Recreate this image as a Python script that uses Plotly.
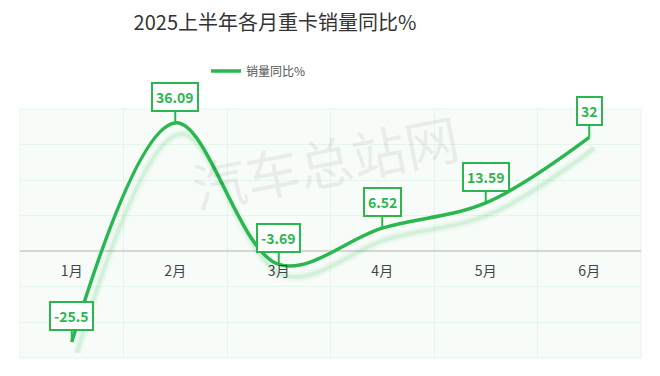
import plotly.graph_objects as go

months = ["1月", "2月", "3月", "4月", "5月", "6月"]
yoy = [-25.5, 36.09, -3.69, 6.52, 13.59, 32]
labels = ["-25.5", "36.09", "-3.69", "6.52", "13.59", "32"]
series_name = "销量同比%"
title_text = "2025上半年各月重卡销量同比%"
watermark = "汽车总站网"

GREEN = "#2bb74f"
GRID = "#e4f5ea"
BG = "#f7fcf9"
FONT = "Noto Sans CJK SC, Microsoft YaHei, sans-serif"

# page has an 8px body margin: figure is drawn at (8, 8)
OFF = 8
W, H = 660 - OFF, 376 - OFF
ML, MR, MT, MB = 20 - OFF, 19, 109 - OFF, 18
pw, ph = W - ML - MR, H - MT - MB
ymin, ymax = -30, 40
px_per_unit = ph / (ymax - ymin)
px_per_cat = pw / len(months)
sdx, sdy = 5, 11  # shadow offset in pixels

fig = go.Figure()

# shadow (on base axes with offset ranges)
fig.add_trace(go.Scatter(
    x=months, y=yoy, mode="lines", xaxis="x", yaxis="y",
    line=dict(color="rgba(43,183,79,0.06)", width=9, shape="spline", smoothing=1),
    showlegend=False, hoverinfo="skip"))
fig.add_trace(go.Scatter(
    x=months, y=yoy, mode="lines", xaxis="x", yaxis="y",
    line=dict(color="rgba(43,183,79,0.13)", width=4, shape="spline", smoothing=1),
    showlegend=False, hoverinfo="skip"))

# main line
fig.add_trace(go.Scatter(
    x=months, y=yoy, mode="lines", name=series_name, xaxis="x2", yaxis="y2",
    line=dict(color=GREEN, width=3.5, shape="spline", smoothing=1)))

for m, v, t in zip(months, yoy, labels):
    fig.add_annotation(
        x=m, y=v, xref="x2", yref="y2", text="<b>%s</b>" % t,
        showarrow=True, arrowhead=0, arrowwidth=2, arrowcolor=GREEN,
        ax=0, ay=-26, standoff=0,
        font=dict(family=FONT, size=14, color=GREEN),
        bgcolor="white", bordercolor=GREEN, borderwidth=2, borderpad=3)

fig.add_annotation(
    x=(325 - 20) / 621, y=(358 - 160) / 249, xref="paper", yref="paper",
    xanchor="center", yanchor="middle", text=watermark,
    showarrow=False, textangle=-11,
    font=dict(family=FONT, size=54, color="rgba(0,0,0,0.06)"))

fig.add_shape(type="rect", xref="paper", yref="paper", x0=0, x1=1, y0=0, y1=1,
              fillcolor=BG, line=dict(color=GRID, width=1), layer="below")

fig.update_layout(
    width=W, height=H,
    margin=dict(l=ML, r=MR, t=MT, b=MB, pad=0, autoexpand=False),
    paper_bgcolor="white", plot_bgcolor="rgba(0,0,0,0)",
    title=dict(text=title_text, x=(275 - OFF) / W, xref="container", xanchor="center",
               y=1 - 14.5 / H, yref="container", yanchor="middle",
               font=dict(family=FONT, size=20, color="#333333")),
    legend=dict(orientation="h", xref="container", yref="container",
                x=(206 - OFF) / W, xanchor="left", y=1 - (71 - OFF) / H, yanchor="middle",
                font=dict(family=FONT, size=12, color="#555555"),
                itemwidth=30, bgcolor="rgba(0,0,0,0)"),
    xaxis=dict(type="category", range=[-0.5 - sdx / px_per_cat, len(months) - 0.5 - sdx / px_per_cat],
               showgrid=False, showticklabels=False, zeroline=False, fixedrange=True,
               automargin=False),
    yaxis=dict(range=[ymin + sdy / px_per_unit, ymax + sdy / px_per_unit],
               showgrid=False, showticklabels=False, zeroline=False, fixedrange=True,
               automargin=False),
    xaxis2=dict(type="category", overlaying="x", range=[-0.5, len(months) - 0.5],
                tickson="boundaries", showgrid=True, gridcolor=GRID, gridwidth=1,
                anchor="free", position=(0 - ymin) / (ymax - ymin),
                ticks="", ticklabelstandoff=10,
                tickfont=dict(family=FONT, size=14, color="#444444"),
                showline=False, zeroline=False, automargin=False),
    yaxis2=dict(overlaying="y", range=[ymin, ymax], dtick=10,
                showgrid=True, gridcolor=GRID, gridwidth=1,
                zeroline=True, zerolinecolor="#d6d6d6", zerolinewidth=1.5,
                showticklabels=False, automargin=False),
    showlegend=True,
)

fig.write_html("out.html")
